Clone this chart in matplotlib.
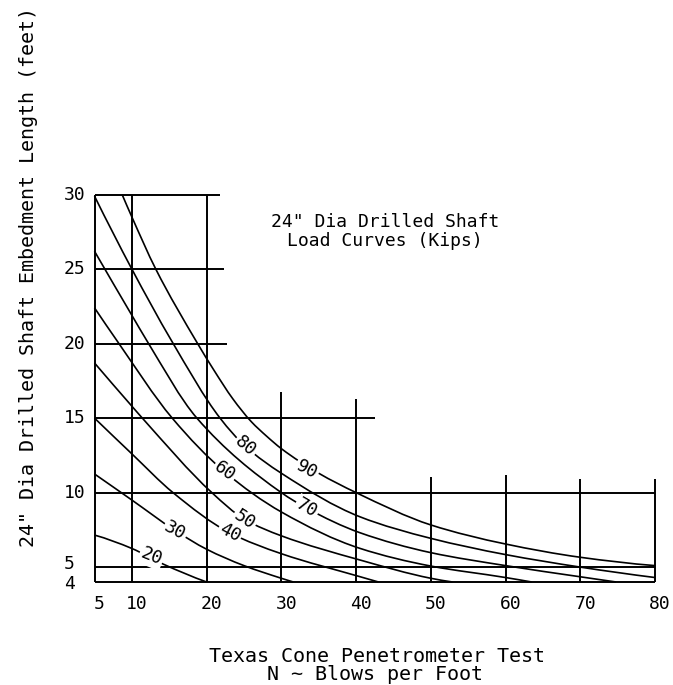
import matplotlib
matplotlib.use("Agg")
import matplotlib.pyplot as plt
import matplotlib.transforms as mtransforms
from matplotlib.path import Path
from matplotlib.patches import PathPatch

# ---------------- data ----------------
load_levels = [20, 30, 40, 50, 60, 70, 80, 90]

curve_n = {
    20: [5, 10, 14.2, 20],
    30: [5, 10, 15.8, 20, 25, 30, 31.6],
    40: [5, 10, 15.5, 23.1, 30, 40.5, 43.0],
    50: [5, 10, 11.4, 20.7, 25.1, 30, 40.5, 50, 52.9],
    60: [5, 8.0, 15.4, 22.4, 30, 40.5, 50, 60, 63.5],
    70: [5, 10, 12.0, 18.7, 30, 33.4, 40.5, 50, 60, 70, 74.8],
    80: [5, 10, 15.3, 21.8, 25.2, 30, 40.5, 50, 60, 70, 80],
    90: [8.7, 10, 13.2, 18.8, 21, 23.5, 26, 28, 30, 35, 40, 50, 60, 70, 80],
}
curve_len = {
    20: [7.15, 6.25, 5.2, 4.0],
    30: [11.25, 9.5, 7.45, 6.2, 5.1, 4.25, 4.0],
    40: [15.0, 12.6, 10.0, 7.3, 5.9, 4.36, 4.0],
    50: [18.7, 15.8, 15.0, 10.0, 8.2, 7.1, 5.48, 4.25, 4.0],
    60: [22.4, 20.2, 15.0, 11.4, 8.7, 6.26, 5.07, 4.3, 4.0],
    70: [26.2, 21.9, 20.2, 15.0, 10.0, 8.95, 7.31, 5.97, 5.1, 4.35, 4.0],
    80: [29.9, 25.0, 20.2, 15.0, 13.1, 11.3, 8.38, 6.93, 5.84, 5.0, 4.3],
    90: [30.0, 28.5, 25.0, 20.0, 18.2, 16.3, 14.75, 13.8, 12.95, 11.3, 10.0, 7.83, 6.55, 5.66, 5.1],
}

# curve label anchor points (N, L) and angles
label_n = {20: 12.6, 30: 15.8, 40: 23.1, 50: 25.1, 60: 22.4, 70: 33.4, 80: 25.2, 90: 33.4}
label_l = {20: 5.7, 30: 7.45, 40: 7.3, 50: 8.2, 60: 11.4, 70: 8.95, 80: 13.1, 90: 11.55}
label_rot = {20: -22, 30: -28, 40: -28, 50: -33, 60: -36, 70: -30, 80: -40, 90: -28}

x_ticks = [5, 10, 20, 30, 40, 50, 60, 70, 80]
y_ticks = [4, 5, 10, 15, 20, 25, 30]

# partial grid lines: horizontal (y, x_start, x_end), vertical (x, y_start, y_end)
h_grid_y = [30, 25, 20, 15, 10, 5, 4]
h_grid_x0 = [5, 5, 5, 5, 5, 5, 5]
h_grid_x1 = [21.8, 22.3, 22.7, 42.5, 80, 80, 80]
v_grid_x = [5, 10, 20, 30, 40, 50, 60, 70, 80]
v_grid_y0 = [4, 4, 4, 4, 4, 4, 4, 4, 4]
v_grid_y1 = [30, 30, 30, 16.75, 16.3, 11.07, 11.2, 10.9, 10.9]

title_lines = ['24" Dia Drilled Shaft', 'Load Curves (Kips)']
x_label_lines = ['Texas Cone Penetrometer Test', 'N ~ Blows per Foot']
y_label = '24" Dia Drilled Shaft Embedment Length (feet)'


def smooth_path(xs, ys):
    """Shape-preserving cubic (PCHIP) drawn as Bezier segments through the read points."""
    n = len(xs)
    h = [xs[i + 1] - xs[i] for i in range(n - 1)]
    d = [(ys[i + 1] - ys[i]) / h[i] for i in range(n - 1)]
    m = [0.0] * n
    if n == 2:
        m = [d[0], d[0]]
    else:
        for k in range(1, n - 1):
            if d[k - 1] * d[k] <= 0:
                m[k] = 0.0
            else:
                w1 = 2 * h[k] + h[k - 1]
                w2 = h[k] + 2 * h[k - 1]
                m[k] = (w1 + w2) / (w1 / d[k - 1] + w2 / d[k])

        def end(h0, h1, d0, d1):
            t = ((2 * h0 + h1) * d0 - h0 * d1) / (h0 + h1)
            if t * d0 <= 0:
                return 0.0
            if d0 * d1 <= 0 and abs(t) > abs(3 * d0):
                return 3 * d0
            return t

        m[0] = end(h[0], h[1], d[0], d[1])
        m[-1] = end(h[-1], h[-2], d[-1], d[-2])
    verts = [(xs[0], ys[0])]
    codes = [Path.MOVETO]
    for k in range(n - 1):
        verts += [(xs[k] + h[k] / 3, ys[k] + m[k] * h[k] / 3),
                  (xs[k + 1] - h[k] / 3, ys[k + 1] - m[k + 1] * h[k] / 3),
                  (xs[k + 1], ys[k + 1])]
        codes += [Path.CURVE4] * 3
    return Path(verts, codes)


# ---------------- drawing ----------------
W, H = 673, 685
fig = plt.figure(figsize=(W / 100, H / 100), dpi=100)
fig.patch.set_facecolor("white")

px_x0, px_x1 = 94.5, 655.0
px_y0, px_y1 = 582.0, 194.6
ax = fig.add_axes([px_x0 / W, 1 - px_y0 / H, (px_x1 - px_x0) / W, (px_y0 - px_y1) / H])
ax.set_xlim(5, 80)
ax.set_ylim(4, 30)
ax.axis("off")

FONT = "DejaVu Sans Mono"
FS = 13

grid_lw = 1.4
for y, x0, x1 in zip(h_grid_y, h_grid_x0, h_grid_x1):
    ax.plot([x0, x1], [y, y], color="black", lw=grid_lw, solid_capstyle="butt", clip_on=False)
for x, y0, y1 in zip(v_grid_x, v_grid_y0, v_grid_y1):
    ax.plot([x, x], [y0, y1], color="black", lw=grid_lw, solid_capstyle="butt", clip_on=False)

for q in load_levels:
    patch = PathPatch(smooth_path(curve_n[q], curve_len[q]), fill=False, ec="black",
                      lw=1.2, transform=ax.transData, clip_on=False, joinstyle="round")
    ax.add_patch(patch)
    ax.text(label_n[q], label_l[q], str(q), rotation=label_rot[q], rotation_mode="anchor",
            ha="center", va="center", fontsize=FS, family=FONT, color="black",
            bbox=dict(boxstyle="square,pad=0.08", fc="white", ec="none"), zorder=5)

# tick labels
xt_off = mtransforms.ScaledTranslation(5 / 100, -22 / 100, fig.dpi_scale_trans)
for t in x_ticks:
    ax.text(t, 4, str(t), transform=ax.transData + xt_off,
            ha="center", va="center", fontsize=FS, family=FONT)
y_tick_nudge = {4: -2, 5: 3}
for t in y_ticks:
    py = px_y0 - (t - 4) * (px_y0 - px_y1) / 26 - y_tick_nudge.get(t, 0)
    fig.text(64 / W, 1 - py / H, str(t), ha="left", va="center", fontsize=FS, family=FONT)

# title inside plot
fig.text(385 / W, 1 - 222 / H, title_lines[0], ha="center", va="center", fontsize=FS, family=FONT)
fig.text(385 / W, 1 - 241 / H, title_lines[1], ha="center", va="center", fontsize=FS, family=FONT)

# axis labels
FSL = 14.4
fig.text(377 / W, 1 - 656 / H, x_label_lines[0], ha="center", va="center", fontsize=FSL, family=FONT)
fig.text(375 / W, 1 - 674 / H, x_label_lines[1], ha="center", va="center", fontsize=FSL, family=FONT)
fig.text(29 / W, 1 - 277 / H, y_label, ha="center", va="center", rotation=90, fontsize=FSL, family=FONT)

fig.savefig("out.png", dpi=100, facecolor="white")
